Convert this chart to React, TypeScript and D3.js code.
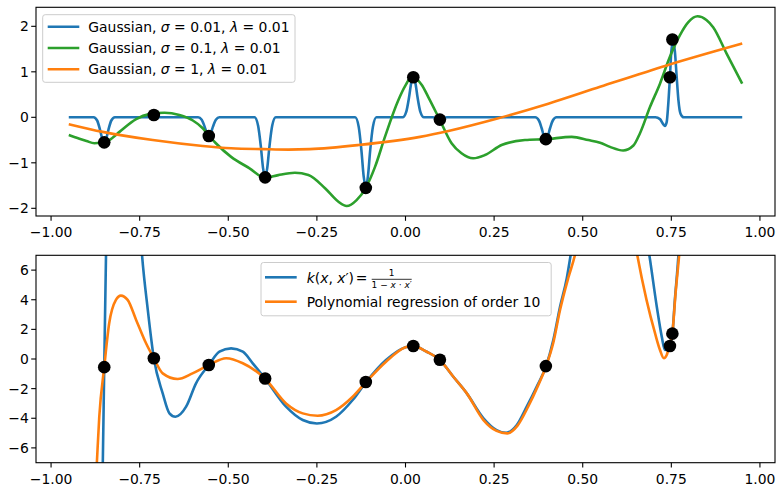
import React from 'react';
import * as d3 from 'd3';

const W = 776;
const H = 486;

// Observed samples (black markers)
const obsX = [-0.85, -0.71, -0.555, -0.396, -0.112, 0.022, 0.097, 0.396, 0.746, 0.753];
const obsY = [-0.55, 0.05, -0.41, -1.32, -1.55, 0.88, -0.05, -0.48, 0.88, 1.71];

// Gaussian kernel fit, sigma = 0.01
const gaussNarrow: [number, number][] = [
  [-0.95, 0], [-0.88, 0], [-0.87, -0.07], [-0.862, -0.27], [-0.856, -0.46], [-0.85, -0.545], [-0.844, -0.46], [-0.838, -0.27], [-0.83, -0.07], [-0.82, 0],
  [-0.725, 0], [-0.717, 0.025], [-0.71, 0.05], [-0.703, 0.025], [-0.695, 0],
  [-0.585, 0], [-0.575, -0.055], [-0.567, -0.2], [-0.561, -0.34], [-0.555, -0.405], [-0.549, -0.34], [-0.543, -0.2], [-0.535, -0.055], [-0.525, 0],
  [-0.426, 0], [-0.416, -0.18], [-0.408, -0.65], [-0.402, -1.11], [-0.396, -1.31], [-0.39, -1.11], [-0.384, -0.65], [-0.376, -0.18], [-0.366, 0],
  [-0.142, 0], [-0.132, -0.21], [-0.124, -0.76], [-0.118, -1.3], [-0.112, -1.535], [-0.106, -1.3], [-0.1, -0.76], [-0.092, -0.21], [-0.082, 0],
  [-0.008, 0], [0.002, 0.12], [0.01, 0.44], [0.016, 0.75], [0.022, 0.87], [0.028, 0.75], [0.034, 0.44], [0.042, 0.12], [0.052, 0],
  [0.077, 0], [0.09, -0.03], [0.097, -0.045], [0.104, -0.03], [0.117, 0],
  [0.366, 0], [0.376, -0.065], [0.384, -0.235], [0.39, -0.4], [0.396, -0.475], [0.402, -0.4], [0.408, -0.235], [0.416, -0.065], [0.426, 0],
  [0.705, 0], [0.718, -0.04], [0.727, -0.15], [0.732, -0.19], [0.737, -0.1], [0.741, 0.25], [0.746, 0.88], [0.75, 1.45], [0.755, 1.65],
  [0.76, 1.45], [0.765, 0.9], [0.77, 0.38], [0.776, 0.08], [0.785, 0], [0.95, 0],
];

// Gaussian kernel fit, sigma = 0.1
const gaussMidX = [-0.95, -0.92, -0.9, -0.878, -0.86, -0.836, -0.807, -0.76, -0.723, -0.68, -0.638, -0.6, -0.572, -0.555, -0.535, -0.492, -0.44, -0.396, -0.359, -0.312, -0.274, -0.227, -0.19, -0.166, -0.138, -0.112, -0.086, -0.058, -0.02, 0.0, 0.015, 0.027, 0.046, 0.064, 0.097, 0.13, 0.158, 0.191, 0.224, 0.271, 0.337, 0.396, 0.469, 0.516, 0.549, 0.577, 0.614, 0.643, 0.661, 0.69, 0.718, 0.746, 0.774, 0.798, 0.824, 0.849, 0.868, 0.906, 0.95];
const gaussMidY = [-0.39, -0.47, -0.52, -0.57, -0.56, -0.5, -0.32, -0.04, 0.07, 0.1, 0.05, -0.07, -0.24, -0.4, -0.57, -0.87, -1.12, -1.33, -1.27, -1.22, -1.27, -1.56, -1.85, -1.95, -1.82, -1.55, -1.09, -0.43, 0.38, 0.7, 0.87, 0.86, 0.71, 0.45, -0.06, -0.57, -0.79, -0.9, -0.83, -0.61, -0.5, -0.48, -0.43, -0.5, -0.56, -0.65, -0.73, -0.62, -0.36, 0.23, 0.74, 1.33, 1.8, 2.09, 2.22, 2.14, 1.98, 1.4, 0.74];

// Gaussian kernel fit, sigma = 1
const gaussWideX = [-0.95, -0.854, -0.713, -0.572, -0.492, -0.4, -0.33, -0.27, -0.133, 0.041, 0.121, 0.262, 0.403, 0.549, 0.737, 0.95];
const gaussWideY = [-0.15, -0.32, -0.5, -0.63, -0.68, -0.7, -0.71, -0.7, -0.61, -0.43, -0.3, -0.02, 0.3, 0.67, 1.14, 1.62];

// Kernel k(x, x') = 1 / (1 - x x')
const recipX = [-0.872, -0.858, -0.854, -0.85, -0.845, -0.84, -0.83, -0.79, -0.76, -0.7433, -0.727, -0.71, -0.685, -0.666, -0.649, -0.619, -0.591, -0.555, -0.525, -0.492, -0.459, -0.431, -0.396, -0.337, -0.29, -0.25, -0.196, -0.149, -0.111, -0.055, 0.0, 0.022, 0.06, 0.097, 0.135, 0.173, 0.22, 0.257, 0.284, 0.314, 0.342, 0.37, 0.396, 0.417, 0.436, 0.455, 0.466, 0.49, 0.56, 0.64, 0.688, 0.709, 0.723, 0.732, 0.744, 0.753, 0.76, 0.77, 0.785, 0.82];
const recipY = [-30, -12, -7, -0.55, 7, 14, 18, 22, 13, 7, 3.3, 0.05, -2.32, -3.67, -3.9, -3.22, -1.64, -0.41, 0.49, 0.72, 0.49, -0.29, -1.33, -3.22, -4.12, -4.35, -3.9, -2.77, -1.55, -0.07, 0.8, 0.88, 0.49, -0.07, -1.2, -2.32, -4.0, -4.8, -4.98, -4.46, -3.22, -1.87, -0.52, 1.28, 3.53, 5.45, 7.03, 11, 20, 13, 7, 3.53, 1.51, 0.61, 0.88, 1.74, 3.99, 7.0, 14, 30];

// Polynomial regression of order 10
const polyX = [-0.89, -0.871, -0.864, -0.85, -0.836, -0.817, -0.803, -0.784, -0.76, -0.732, -0.71, -0.685, -0.643, -0.601, -0.555, -0.506, -0.459, -0.396, -0.337, -0.29, -0.248, -0.196, -0.149, -0.111, -0.055, 0.0, 0.022, 0.06, 0.097, 0.135, 0.173, 0.22, 0.257, 0.287, 0.316, 0.346, 0.372, 0.396, 0.417, 0.436, 0.459, 0.478, 0.51, 0.57, 0.62, 0.654, 0.68, 0.704, 0.718, 0.729, 0.737, 0.744, 0.753, 0.762, 0.772, 0.79, 0.83];
const polyY = [-16, -7.1, -3.9, -0.55, 2.41, 3.99, 4.28, 3.99, 2.64, 1.06, 0.05, -0.97, -1.35, -0.97, -0.41, 0.05, -0.29, -1.33, -3.0, -3.67, -3.83, -3.45, -2.55, -1.55, -0.18, 0.79, 0.88, 0.49, -0.07, -1.2, -2.32, -4.12, -4.85, -5.02, -4.5, -3.22, -1.9, -0.52, 1.1, 3.31, 5.45, 7.0, 11, 16, 12, 7, 3.99, 1.74, 0.61, 0.05, 0.27, 0.88, 1.74, 4.44, 7.0, 13, 30];

const xTicks = [-1, -0.75, -0.5, -0.25, 0, 0.25, 0.5, 0.75, 1];
const topYTicks = [-2, -1, 0, 1, 2];
const bottomYTicks = [-6, -4, -2, 0, 2, 4, 6];
const sigmaLabels = ['0.01', '0.1', '1'];

const C_BLUE = '#1f77b4';
const C_ORANGE = '#ff7f0e';
const C_GREEN = '#2ca02c';
const FONT = 'DejaVu Sans, sans-serif';
const FS = 13.9;

const zip = (xs: number[], ys: number[]): [number, number][] => xs.map((v, i) => [v, ys[i]]);
const minus = (s: string) => s.replace(/-/g, '\u2212');

export default function App() {
  const left = 36;
  const right = 775;
  const x = d3.scaleLinear().domain([-1.0425, 1.0425]).range([left, right]);
  const yTop = d3.scaleLinear().domain([-2.169, 2.418]).range([216, 7.3]);
  const yBot = d3.scaleLinear().domain([-7, 7]).range([462.7, 255.3]);

  const path = (y: d3.ScaleLinear<number, number>, pts: [number, number][]) =>
    d3.line<[number, number]>().x((d) => x(d[0])).y((d) => y(d[1])).curve(d3.curveMonotoneX)(pts) || '';

  const fmtX = d3.format('.2f');
  const tick = 4.8;

  const axes = (y: d3.ScaleLinear<number, number>, yTicks: number[], id: string) => {
    const [b, t] = y.range();
    return (
      <g key={id}>
        <rect x={left} y={t} width={right - left} height={b - t} fill="none" stroke="#000" strokeWidth={1.1} />
        {xTicks.map((v) => (
          <g key={'x' + v}>
            <line x1={x(v)} x2={x(v)} y1={b} y2={b + tick} stroke="#000" strokeWidth={1.1} />
            <text x={x(v)} y={b + 21.3} textAnchor="middle" fontFamily={FONT} fontSize={FS} fill="#000">
              {minus(fmtX(v))}
            </text>
          </g>
        ))}
        {yTicks.map((v) => (
          <g key={'y' + v}>
            <line x1={left - tick} x2={left} y1={y(v)} y2={y(v)} stroke="#000" strokeWidth={1.1} />
            <text x={left - 7.2} y={y(v) + 5} textAnchor="end" fontFamily={FONT} fontSize={FS} fill="#000">
              {minus(String(v))}
            </text>
          </g>
        ))}
      </g>
    );
  };

  const lw = 2.6;
  const pts = zip(obsX, obsY);
  const legendColors = [C_BLUE, C_GREEN, C_ORANGE];

  return (
    <svg width={W} height={H} style={{ position: 'absolute', left: 0, top: 0, background: '#fff' }}>
      <defs>
        <clipPath id="clipTop">
          <rect x={left} y={yTop.range()[1]} width={right - left} height={yTop.range()[0] - yTop.range()[1]} />
        </clipPath>
        <clipPath id="clipBot">
          <rect x={left} y={yBot.range()[1]} width={right - left} height={yBot.range()[0] - yBot.range()[1]} />
        </clipPath>
      </defs>
      <rect width={W} height={H} fill="#fff" />

      {/* upper panel: Gaussian kernels */}
      <g clipPath="url(#clipTop)">
        <path d={path(yTop, gaussNarrow)} fill="none" stroke={C_BLUE} strokeWidth={lw} strokeLinejoin="round" />
        <path d={path(yTop, zip(gaussMidX, gaussMidY))} fill="none" stroke={C_GREEN} strokeWidth={lw} strokeLinejoin="round" />
        <path d={path(yTop, zip(gaussWideX, gaussWideY))} fill="none" stroke={C_ORANGE} strokeWidth={lw} strokeLinejoin="round" />
        {pts.map((p, i) => (
          <circle key={i} cx={x(p[0])} cy={yTop(p[1])} r={6.3} fill="#000" />
        ))}
      </g>
      {axes(yTop, topYTicks, 'top')}

      {/* upper legend */}
      <g fontFamily={FONT} fontSize={FS} fill="#000">
        <rect x={42.7} y={14.7} width={252.3} height={67.6} rx={2.5} fill="#fff" fillOpacity={0.8} stroke="#cccccc" strokeWidth={1} />
        {sigmaLabels.map((s, i) => {
          const cy = 26.7 + i * 21.3;
          return (
            <g key={i}>
              <line x1={47.7} x2={79.3} y1={cy} y2={cy} stroke={legendColors[i]} strokeWidth={lw} />
              <text x={88.3} y={cy + 5} style={{ whiteSpace: 'pre' }}>
                <tspan>{'Gaussian, '}</tspan>
                <tspan fontStyle="italic">{'\u03c3'}</tspan>
                <tspan>{' = ' + s + ', '}</tspan>
                <tspan fontStyle="italic">{'\u03bb'}</tspan>
                <tspan>{' = 0.01'}</tspan>
              </text>
            </g>
          );
        })}
      </g>

      {/* lower panel: reciprocal kernel vs polynomial */}
      <g clipPath="url(#clipBot)">
        <path d={path(yBot, zip(recipX, recipY))} fill="none" stroke={C_BLUE} strokeWidth={lw} strokeLinejoin="round" />
        <path d={path(yBot, zip(polyX, polyY))} fill="none" stroke={C_ORANGE} strokeWidth={lw} strokeLinejoin="round" />
        {pts.map((p, i) => (
          <circle key={i} cx={x(p[0])} cy={yBot(p[1])} r={6.3} fill="#000" />
        ))}
      </g>
      {axes(yBot, bottomYTicks, 'bot')}

      {/* lower legend */}
      <g fontFamily={FONT} fontSize={FS} fill="#000">
        <rect x={261} y={262.5} width={290.2} height={53.3} rx={2.5} fill="#fff" fillOpacity={0.8} stroke="#cccccc" strokeWidth={1} />
        <line x1={265} x2={296.7} y1={277.3} y2={277.3} stroke={C_BLUE} strokeWidth={lw} />
        <text x={306.7} y={282.8} style={{ whiteSpace: 'pre' }}>
          <tspan fontStyle="italic">k</tspan>
          <tspan>(</tspan>
          <tspan fontStyle="italic">x</tspan>
          <tspan>{', '}</tspan>
          <tspan fontStyle="italic">x</tspan>
          <tspan>{'\u2032)'}</tspan>
        </text>
        <text x={355.8} y={282.8}>=</text>
        <text x={391.7} y={275.8} textAnchor="middle" fontSize={9}>1</text>
        <line x1={371.7} x2={411.7} y1={279.3} y2={279.3} stroke="#000" strokeWidth={0.8} />
        <text x={391.7} y={288} textAnchor="middle" fontSize={9} style={{ whiteSpace: 'pre' }}>
          <tspan>{'1 \u2212 '}</tspan>
          <tspan fontStyle="italic">x</tspan>
          <tspan>{' \u22c5 '}</tspan>
          <tspan fontStyle="italic">x</tspan>
          <tspan>{'\u2032'}</tspan>
        </text>
        <line x1={265} x2={296.7} y1={301.7} y2={301.7} stroke={C_ORANGE} strokeWidth={lw} />
        <text x={306.7} y={306.6}>Polynomial regression of order 10</text>
      </g>
    </svg>
  );
}
